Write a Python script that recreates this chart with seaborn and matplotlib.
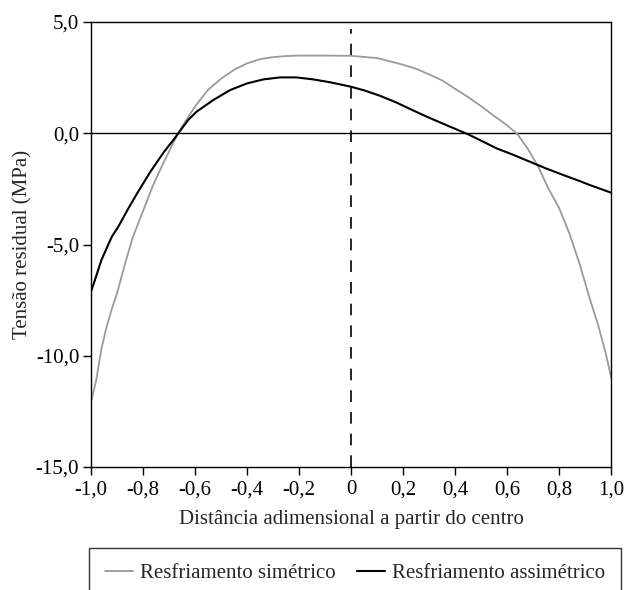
import matplotlib
matplotlib.use("Agg")
import matplotlib.pyplot as plt
import seaborn as sns
import pandas as pd

# Data
x_sim = [-1.0, -0.98, -0.96, -0.94, -0.92, -0.90, -0.87, -0.84, -0.80, -0.76, -0.72,
         -0.68, -0.65, -0.60, -0.55, -0.50, -0.45, -0.40, -0.35, -0.30, -0.25, -0.20,
         -0.10, 0.0, 0.10, 0.20, 0.25, 0.30, 0.35, 0.40, 0.45, 0.50, 0.55, 0.60, 0.64,
         0.68, 0.72, 0.76, 0.80, 0.84, 0.88, 0.92, 0.95, 0.98, 1.0]
y_sim = [-12.1, -11.1, -9.7, -8.7, -7.9, -7.2, -5.9, -4.7, -3.5, -2.3, -1.3,
         -0.35, 0.3, 1.2, 1.95, 2.45, 2.85, 3.14, 3.33, 3.42, 3.47, 3.49,
         3.49, 3.48, 3.38, 3.08, 2.9, 2.65, 2.38, 2.0, 1.63, 1.22, 0.78, 0.36, -0.04,
         -0.7, -1.5, -2.5, -3.35, -4.5, -5.9, -7.5, -8.6, -9.9, -10.95]

x_asim = [-1.0, -0.985, -0.96, -0.92, -0.895, -0.856, -0.82, -0.77, -0.72, -0.68,
          -0.664, -0.626, -0.594, -0.53, -0.465, -0.40, -0.337, -0.273, -0.21, -0.145,
          -0.08, 0.0, 0.05, 0.11, 0.175, 0.24, 0.304, 0.38, 0.451, 0.50, 0.56, 0.62,
          0.688, 0.75, 0.817, 0.88, 0.919, 0.96, 1.0]
y_asim = [-7.12, -6.6, -5.7, -4.65, -4.2, -3.37, -2.65, -1.7, -0.85, -0.25,
          0.0, 0.6, 0.97, 1.49, 1.94, 2.24, 2.42, 2.51, 2.51, 2.42,
          2.29, 2.09, 1.93, 1.69, 1.38, 1.02, 0.68, 0.3, -0.05, -0.33, -0.68, -0.95,
          -1.28, -1.58, -1.88, -2.15, -2.33, -2.5, -2.67]

label_sim = "Resfriamento simétrico"
label_asim = "Resfriamento assimétrico"
x_ticks = [-1.0, -0.8, -0.6, -0.4, -0.2, 0.0, 0.2, 0.4, 0.6, 0.8, 1.0]
x_ticklabels = ["-1,0", "-0,8", "-0,6", "-0,4", "-0,2", "0", "0,2", "0,4", "0,6", "0,8", "1,0"]
y_ticks = [5.0, 0.0, -5.0, -10.0, -15.0]
y_ticklabels = ["5,0", "0,0", "-5,0", "-10,0", "-15,0"]

sns.set_style("white")
plt.rcParams["font.family"] = ["Liberation Serif", "DejaVu Serif"]
plt.rcParams["font.size"] = 15

fig = plt.figure(figsize=(6.26, 5.90), dpi=100)
ax = fig.add_axes([91/626, 1-467/590, (611-91)/626, (467-22)/590])

df_sim = pd.DataFrame({"x": x_sim, "y": y_sim})
df_asim = pd.DataFrame({"x": x_asim, "y": y_asim})
sns.lineplot(data=df_sim, x="x", y="y", ax=ax, color="#9a9a9a", lw=1.3, label=label_sim)
sns.lineplot(data=df_asim, x="x", y="y", ax=ax, color="black", lw=1.5, label=label_asim)

ax.axhline(0, color="black", lw=1.0, zorder=1)
ax.axvline(0, color="black", lw=1.2, ls=(0, (7, 6)), zorder=1, ymax=0.985)

ax.set_xlim(-1.0, 1.0)
ax.set_ylim(-15, 5)
ax.set_xticks(x_ticks)
ax.set_xticklabels(x_ticklabels)
ax.set_yticks(y_ticks)
ax.set_yticklabels(y_ticklabels)
ax.tick_params(axis="both", direction="out", length=5.5, width=1, color="black",
               labelsize=15, labelcolor="black", left=True, bottom=True)
ax.tick_params(axis="x", pad=4)
ax.tick_params(axis="y", pad=3)
for s in ax.spines.values():
    s.set_visible(True)
    s.set_color("black")
    s.set_linewidth(1.0)

ax.set_xlabel("Distância adimensional a partir do centro", fontsize=15, labelpad=8)
ax.set_ylabel("Tensão residual (MPa)", fontsize=15, labelpad=2)

ax.get_legend().remove()
handles, labels = ax.get_legend_handles_labels()
leg = fig.legend(handles, labels, loc="upper center",
                 bbox_to_anchor=(355/626, 1-548/590), ncol=2, frameon=True,
                 fancybox=False, edgecolor="black", fontsize=15,
                 handlelength=1.35, handletextpad=0.35, columnspacing=1.0,
                 borderpad=0.75, borderaxespad=0)
leg.get_frame().set_linewidth(1.0)

fig.savefig("out.png", dpi=100)
